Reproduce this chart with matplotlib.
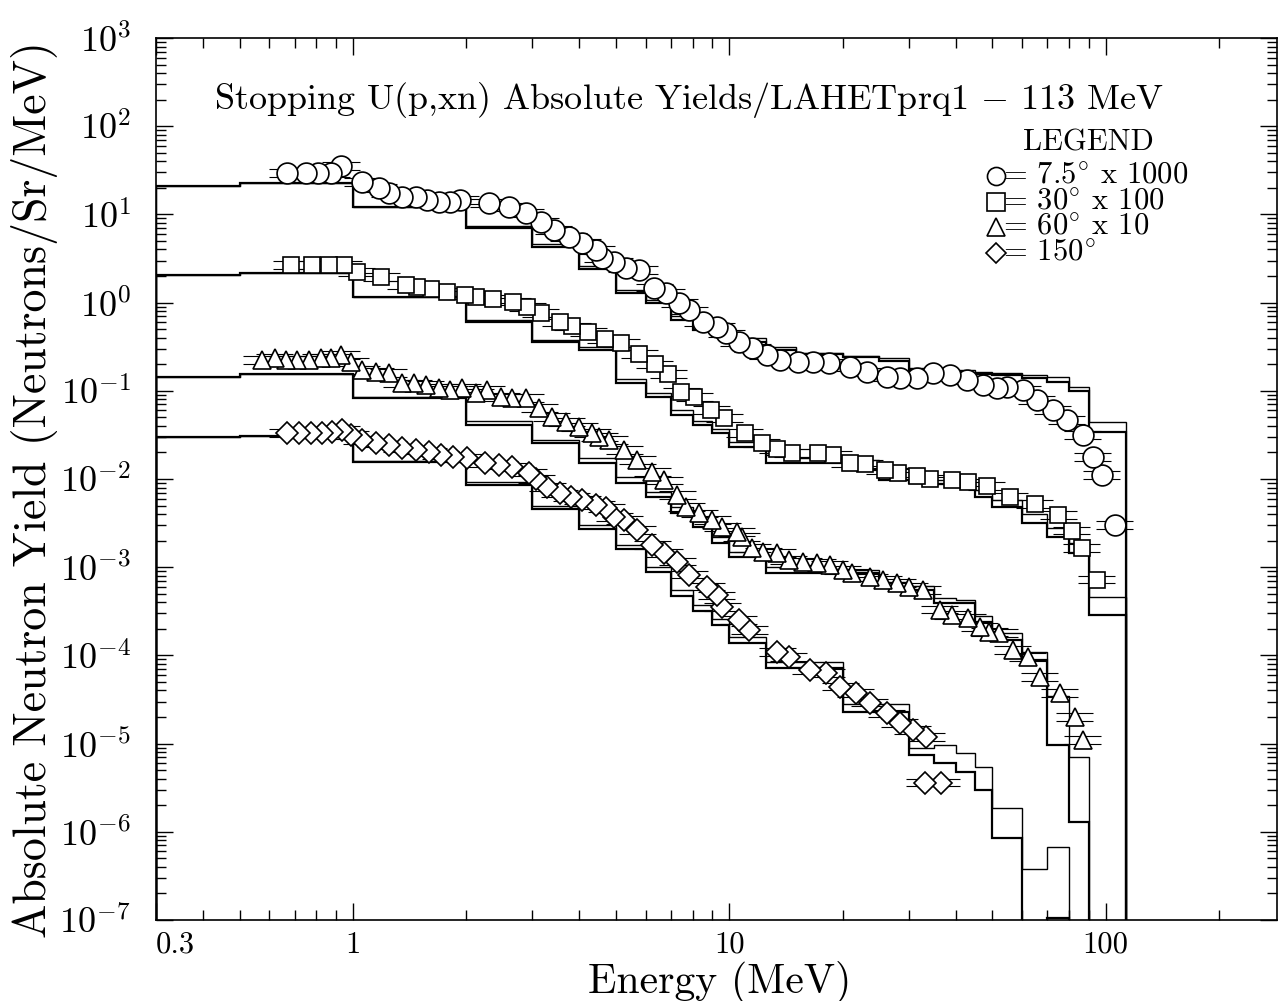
import numpy as np
import matplotlib
matplotlib.use("Agg")
import matplotlib.pyplot as plt
from matplotlib.ticker import FixedLocator, LogLocator, FuncFormatter, NullFormatter

plt.rcParams["font.family"] = ["cmr10", "DejaVu Serif"]
plt.rcParams["mathtext.fontset"] = "cm"
plt.rcParams["axes.formatter.use_mathtext"] = True

# LAHET calculation bins (MeV)
edges = [0.3, 0.5, 1, 2, 3, 4, 5, 6, 7, 8, 9, 10, 12.5, 15, 20, 25, 30,
         35, 40, 45, 50, 60, 70, 80, 90, 113]

# 7.5 deg x 1000
e_7 = [0.67, 0.75, 0.81, 0.875, 0.93, 1.06, 1.17, 1.25, 1.35, 1.47, 1.57, 1.69,
       1.81, 1.93, 2.30, 2.60, 2.88, 3.16, 3.42, 3.75, 4.07, 4.43, 4.60, 4.95,
       5.32, 5.76, 6.32, 6.80, 7.37, 7.83, 8.49, 9.25, 9.82, 10.6, 11.5, 12.6,
       13.6, 15.2, 16.7, 18.4, 20.9, 23.2, 26.2, 28.4, 31.5, 34.7, 38.5, 42.7,
       47.1, 51.3, 54.6, 60.2, 65.6, 72.3, 78.7, 86.8, 92.3, 97.5, 105.7]
y_7 = [29.4, 29.4, 29.4, 29.4, 35.4, 23.3, 19.9, 17.5, 15.7, 15.7, 14.6, 13.8,
       13.8, 14.6, 13.5, 12.1, 10.4, 8.2, 6.65, 5.54, 4.74, 3.95, 3.2, 2.89,
       2.47, 2.34, 1.47, 1.29, 0.99, 0.82, 0.60, 0.53, 0.45, 0.357, 0.305, 0.255,
       0.223, 0.212, 0.212, 0.207, 0.186, 0.163, 0.143, 0.140, 0.140, 0.159, 0.151, 0.132,
       0.116, 0.108, 0.110, 0.102, 0.0787, 0.0606, 0.0467, 0.0315, 0.0178, 0.0111, 0.0030]
calc_7_lo = [21, 22.7, 12.1, 7.0, 4.3, 2.4, 1.29, 1.0, 0.64, 0.49, 0.42, 0.36, 0.29,
             0.26, 0.24, 0.22, 0.17, 0.165, 0.16, 0.155, 0.15, 0.14, 0.125, 0.10, 0.034]
calc_7_hi = [21, 22.7, 12.1, 7.4, 4.6, 2.6, 1.4, 1.08, 0.70, 0.53, 0.45, 0.40, 0.31,
             0.27, 0.25, 0.235, 0.18, 0.175, 0.17, 0.165, 0.16, 0.15, 0.143, 0.11, 0.044]

# 30 deg x 100
e_30 = [0.686, 0.78, 0.865, 0.947, 1.025, 1.19, 1.38, 1.48, 1.61, 1.78, 1.99, 2.12,
        2.35, 2.66, 2.91, 3.16, 3.56, 3.83, 4.22, 4.68, 5.16, 5.76, 6.33, 6.89,
        7.45, 8.07, 8.96, 9.70, 11.0, 12.2, 13.4, 14.7, 17.2, 18.9, 20.9, 22.9,
        25.9, 28.1, 31.5, 34.1, 39.0, 43.0, 48.3, 55.6, 64.8, 74.7, 81.2, 86.4, 94.6]
y_30 = [2.67, 2.67, 2.67, 2.67, 2.22, 1.95, 1.58, 1.50, 1.43, 1.32, 1.22, 1.16,
        1.10, 1.02, 0.89, 0.76, 0.60, 0.54, 0.465, 0.387, 0.348, 0.261, 0.20, 0.155,
        0.0968, 0.0851, 0.0606, 0.0492, 0.0333, 0.0256, 0.0219, 0.0197, 0.0197, 0.0187, 0.0152, 0.0148,
        0.0126, 0.0117, 0.0108, 0.0100, 0.0097, 0.0092, 0.0083, 0.0063, 0.0052, 0.0039, 0.0026, 0.00165, 0.00072]
calc_30_lo = [2.06, 2.17, 1.16, 0.60, 0.357, 0.29, 0.122, 0.085, 0.053, 0.041, 0.033, 0.023,
              0.0152, 0.0152, 0.0126, 0.0097, 0.0090, 0.0087, 0.0081, 0.0063, 0.0048, 0.0032,
              0.0022, 0.00145, 0.000287]
calc_30_hi = [2.06, 2.17, 1.16, 0.63, 0.38, 0.31, 0.135, 0.095, 0.060, 0.046, 0.037, 0.026,
              0.0187, 0.0175, 0.0166, 0.0135, 0.0105, 0.0097, 0.0093, 0.0075, 0.0058, 0.0040,
              0.0028, 0.0019, 0.00046]

# 60 deg x 10
e_60 = [0.572, 0.620, 0.666, 0.711, 0.765, 0.823, 0.875, 0.930, 0.988, 1.056, 1.15, 1.245,
        1.35, 1.45, 1.56, 1.69, 1.81, 1.95, 2.12, 2.27, 2.48, 2.65, 2.88, 3.13,
        3.38, 3.69, 3.99, 4.32, 4.51, 4.80, 5.26, 5.69, 6.24, 6.72, 7.28, 7.69,
        8.32, 9.02, 9.59, 10.45, 10.8, 11.5, 12.3, 13.4, 14.4, 15.7, 17.1, 18.5,
        20.0, 21.2, 23.6, 25.6, 27.9, 30.1, 32.6, 36.2, 39.1, 43.0, 46.2, 49.1,
        52.2, 56.6, 62.0, 66.8, 75.4, 82.7, 86.8]
y_60 = [0.223, 0.235, 0.223, 0.223, 0.223, 0.235, 0.235, 0.255, 0.212, 0.172, 0.163, 0.159,
        0.122, 0.122, 0.116, 0.108, 0.102, 0.108, 0.0944, 0.102, 0.0851, 0.0828, 0.0828, 0.0638,
        0.0505, 0.0443, 0.0389, 0.0333, 0.0299, 0.0277, 0.0213, 0.0164, 0.0120, 0.0097, 0.0066, 0.0048,
        0.0041, 0.00343, 0.00286, 0.00251, 0.00220, 0.00165, 0.00149, 0.00145, 0.00121, 0.00115, 0.00112, 0.00106,
        0.00093, 0.00086, 0.00077, 0.00072, 0.00066, 0.00060, 0.00055, 0.00033, 0.000287, 0.000265, 0.00021, 0.000184,
        0.000179, 0.000115, 9.6e-5, 5.7e-5, 3.75e-5, 2.0e-5, 1.1e-5]
calc_60_lo = [0.143, 0.155, 0.083, 0.041, 0.0256, 0.0152, 0.009, 0.00625, 0.0041, 0.00286,
              0.00188, 0.00131, 0.00086, 0.00086, 0.00086, 0.0006, 0.00055, 0.00039, 0.00039,
              0.00024, 0.00015, 8.9e-5, 9.6e-6, 1.3e-6, 1e-12]
calc_60_hi = [0.143, 0.155, 0.085, 0.045, 0.028, 0.0175, 0.0105, 0.0072, 0.0048, 0.0033,
              0.0022, 0.0015, 0.0010, 0.00095, 0.00092, 0.00068, 0.00062, 0.00045, 0.00042,
              0.00028, 0.00018, 0.00011, 3.5e-5, 7e-6, 1e-12]

# 150 deg
e_150 = [0.67, 0.72, 0.775, 0.828, 0.88, 0.935, 0.988, 1.056, 1.15, 1.245, 1.35, 1.47,
         1.59, 1.71, 1.85, 2.01, 2.25, 2.45, 2.65, 2.93, 3.07, 3.28, 3.54, 3.80,
         4.07, 4.43, 4.71, 4.95, 5.26, 5.69, 6.24, 6.72, 7.28, 7.83, 8.70, 9.25,
         9.59, 10.6, 11.3, 13.4, 14.4, 16.4, 18.1, 19.7, 21.7, 23.6, 26.2, 28.4,
         30.7, 33.4, 33.0, 36.6]
y_150 = [0.0333, 0.0333, 0.0333, 0.0333, 0.0341, 0.036, 0.0316, 0.0277, 0.0256, 0.0243, 0.0224, 0.0213,
         0.0202, 0.0187, 0.0178, 0.0173, 0.0152, 0.0144, 0.0137, 0.0118, 0.0100, 0.0081, 0.0069, 0.00625,
         0.00578, 0.00507, 0.00469, 0.00371, 0.00343, 0.00264, 0.00179, 0.00145, 0.00115, 0.00082, 0.00060, 0.00048,
         0.000354, 0.000252, 0.000194, 0.000109, 9.6e-5, 6.8e-5, 6.3e-5, 4.4e-5, 3.75e-5, 2.9e-5, 2.2e-5, 1.71e-5,
         1.43e-5, 1.19e-5, 3.6e-6, 3.6e-6]
calc_150_lo = [0.030, 0.031, 0.0156, 0.00855, 0.00457, 0.00271, 0.00161, 0.00088, 0.00047,
               0.00032, 0.00022, 0.000138, 7.2e-5, 7.2e-5, 2.3e-5, 2.3e-5, 7.4e-6, 6.0e-6,
               4.8e-6, 3.0e-6, 8.5e-7, 1e-12, 1.05e-7, 1e-12, 1e-12]
calc_150_hi = [0.030, 0.031, 0.016, 0.0092, 0.0050, 0.0030, 0.0018, 0.0010, 0.00055,
               0.00037, 0.00026, 0.00016, 8.5e-5, 8.5e-5, 2.8e-5, 2.8e-5, 9.0e-6, 9.6e-6,
               7.8e-6, 5.4e-6, 1.86e-6, 3.8e-7, 6.7e-7, 1e-12, 1e-12]

series = [
    (e_7, y_7, calc_7_lo, calc_7_hi, "o", 15),
    (e_30, y_30, calc_30_lo, calc_30_hi, "s", 12),
    (e_60, y_60, calc_60_lo, calc_60_hi, "^", 13),
    (e_150, y_150, calc_150_lo, calc_150_hi, "D", 11),
]
legend_rows = [
    ("o", "= 7.5$^{\\circ}$ x 1000"),
    ("s", "= 30$^{\\circ}$ x 100"),
    ("^", "= 60$^{\\circ}$ x 10"),
    ("D", "= 150$^{\\circ}$"),
]

fig = plt.figure(figsize=(12.79, 10.01), dpi=100)
ax = fig.add_axes([156 / 1279, 81 / 1001, 1121 / 1279, 882 / 1001])
ax.set_xscale("log")
ax.set_yscale("log")

ex = 1.12   # half bin width (factor) for data bars
ey = 1.10   # error factor

for e, y, lo, hi, mk, ms in series:
    ax.stairs(lo, edges, baseline=1e-12, color="black", lw=1.6, zorder=2)
    ax.stairs(hi, edges, baseline=1e-12, color="black", lw=1.0, zorder=2)
    e = np.array(e)
    y = np.array(y)
    ax.hlines(y * ey, e / ex, e * ex, color="black", lw=0.8, zorder=3)
    ax.hlines(y / ey, e / ex, e * ex, color="black", lw=0.8, zorder=3)
    ax.plot(e[::-1], y[::-1], ls="none", marker=mk, ms=ms, mfc="white",
            mec="black", mew=1.2, zorder=4)

ax.set_xlim(0.3, 285)
ax.set_ylim(1e-7, 1e3)

ax.xaxis.set_major_locator(FixedLocator([0.3, 1, 10, 100]))
ax.xaxis.set_minor_locator(LogLocator(base=10, subs=np.arange(2, 10), numticks=20))
ax.xaxis.set_major_formatter(FuncFormatter(lambda v, p: {0.3: "0.3", 1: "1", 10: "10", 100: "100"}.get(round(v, 1), "")))
ax.xaxis.set_minor_formatter(NullFormatter())
ax.yaxis.set_major_locator(LogLocator(base=10, numticks=20))
ax.yaxis.set_minor_locator(LogLocator(base=10, subs=np.arange(2, 10), numticks=20))
ax.yaxis.set_major_formatter(FuncFormatter(lambda v, p: "$10^{%d}$" % round(np.log10(v))))
ax.yaxis.set_minor_formatter(NullFormatter())

ax.tick_params(which="both", direction="in", top=True, right=True, width=1.0)
ax.tick_params(which="major", length=12)
ax.tick_params(which="minor", length=7)
ax.tick_params(axis="x", which="major", labelsize=22, pad=8)
ax.tick_params(axis="y", which="major", labelsize=26, pad=18)
for s in ax.spines.values():
    s.set_linewidth(1.2)
# the 0.3 label sits just right of the corner
ax.xaxis.get_major_ticks()[0].label1.set_horizontalalignment("left")

ax.text(0.4755, 0.930, "Stopping U(p,xn) Absolute Yields/LAHETprq1 $-$ 113 MeV",
        transform=ax.transAxes, ha="center", va="center", fontsize=26)

ax.text(0.8315, 0.881, "LEGEND", transform=ax.transAxes, ha="center", va="center", fontsize=22)
row_y = [0.8435, 0.8141, 0.7857, 0.7562]
for (mk, txt), yy in zip(legend_rows, row_y):
    ax.plot([0.7493], [yy], marker=mk, ms=13 if mk != "D" else 10, mfc="white", mec="black",
            mew=1.2, transform=ax.transAxes, clip_on=False, zorder=5)
    ax.text(0.7556, yy, txt, transform=ax.transAxes, ha="left", va="center", fontsize=22)

fig.text(720 / 1279, 1 - 982 / 1001, "Energy (MeV)", ha="center", va="center", fontsize=30)
fig.text(35 / 1279, 1 - 490 / 1001, "Absolute Neutron Yield (Neutrons/Sr/MeV)",
         ha="center", va="center", rotation=90, fontsize=33)

fig.savefig("out.png", dpi=100)
